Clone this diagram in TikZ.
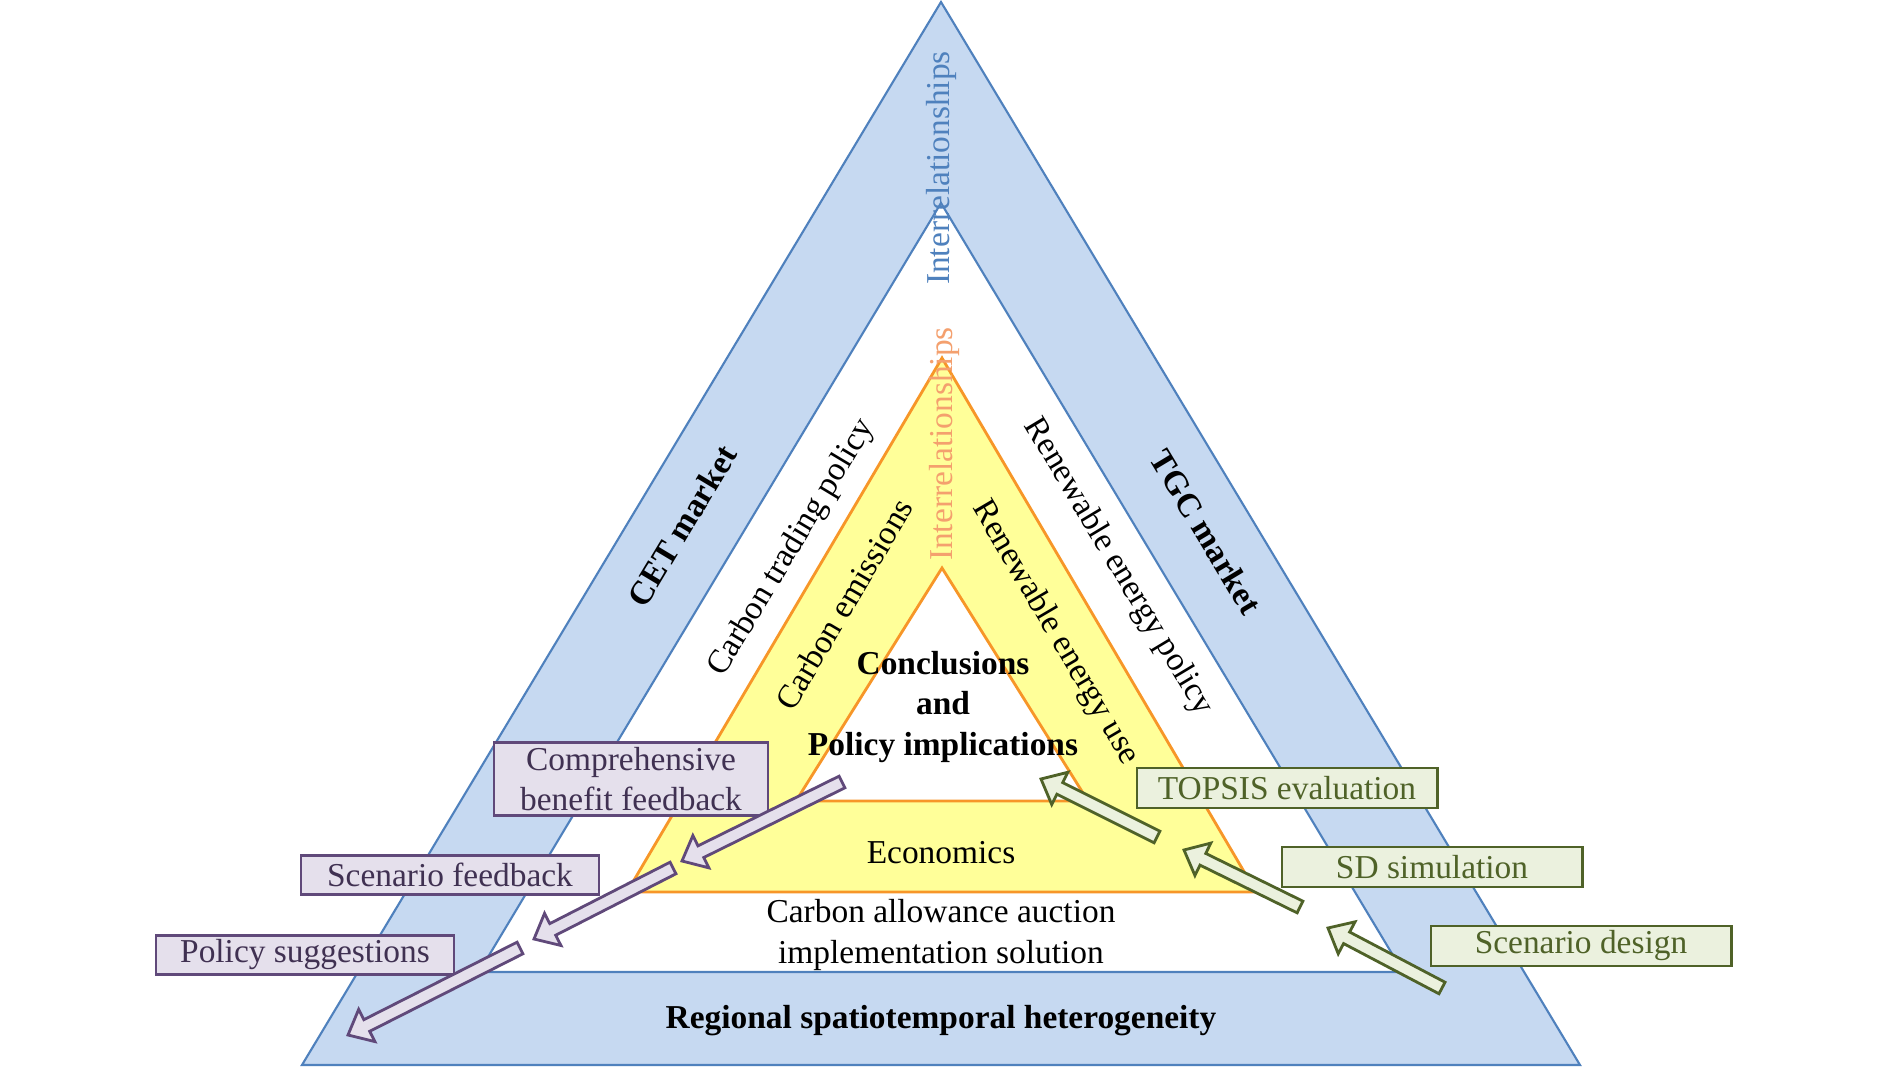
\documentclass[tikz,border=0pt]{standalone}
\usepackage{fontspec}
\setmainfont{Liberation Serif}
\usetikzlibrary{calc}
\definecolor{bandblue}{RGB}{198,217,241}
\definecolor{lineblue}{RGB}{79,129,189}
\definecolor{bandyellow}{RGB}{255,255,153}
\definecolor{lineorange}{RGB}{247,150,40}
\definecolor{textorange}{RGB}{244,160,110}
\definecolor{boxpurple}{RGB}{229,224,236}
\definecolor{linepurple}{RGB}{96,73,122}
\definecolor{textpurple}{RGB}{64,49,82}
\definecolor{boxgreen}{RGB}{235,241,222}
\definecolor{linegreen}{RGB}{79,98,40}
\newcommand{\diagfont}{\fontsize{9.5}{11.4}\selectfont}
\begin{document}
\begin{tikzpicture}[x=0.01cm, y=-0.01cm,
  every node/.style={font=\diagfont, align=center},
  boldlabel/.style={font=\diagfont\bfseries},
  fbbox/.style={rectangle, draw=linepurple, fill=boxpurple, text=textpurple,
    line width=0.8pt, inner ysep=0.5pt, minimum width=2.98cm, minimum height=0.39cm},
  simbox/.style={rectangle, draw=linegreen, fill=boxgreen, text=linegreen,
    line width=0.8pt, inner ysep=0.5pt, minimum width=3cm, minimum height=0.4cm},
  blockarrow/.style={line width=0.8pt, line join=miter, to path={
    ($(\tikztostart)!0.065cm!90:(\tikztotarget)$)
    -- ($(\tikztotarget)!0.22cm!-17.2:(\tikztostart)$)
    -- ($(\tikztotarget)!0.277cm!-40.6:(\tikztostart)$)
    -- (\tikztotarget)
    -- ($(\tikztotarget)!0.277cm!40.6:(\tikztostart)$)
    -- ($(\tikztotarget)!0.22cm!17.2:(\tikztostart)$)
    -- ($(\tikztostart)!0.065cm!-90:(\tikztotarget)$) -- cycle}},
  parrow/.style={blockarrow, draw=linepurple, fill=boxpurple},
  garrow/.style={blockarrow, draw=linegreen, fill=boxgreen}]
\path[use as bounding box, fill=white] (0,0) rectangle (1890,1067);

% triangles
\draw[lineblue, fill=bandblue, line width=0.6pt] (941,2) -- (302,1065) -- (1580,1065) -- cycle;
\draw[lineblue, fill=white, line width=0.6pt] (941,203) -- (479,972) -- (1403,972) -- cycle;
\draw[lineorange, fill=bandyellow, line width=0.8pt] (942,358) -- (627,892) -- (1256,892) -- cycle;
\draw[lineorange, fill=white, line width=0.8pt] (942,568) -- (796,801) -- (1088,801) -- cycle;

\node[text=lineblue, rotate=90] (outerlink) at (941,168) {Interrelationships};
\node[text=textorange, rotate=90] (innerlink) at (944,444) {Interrelationships};

\node[boldlabel, rotate=59] (cet) at (682,526) {CET market};
\node[rotate=59] (carbonpolicy) at (792,548) {Carbon trading policy};
\node[rotate=59.5] (emissions) at (844,604) {Carbon emissions};
\node[boldlabel, rotate=-59] (tgc) at (1206,532) {TGC market};
\node[rotate=-59] (renewpolicy) at (1118,567) {Renewable energy policy};
\node[rotate=-59.5] (renewuse) at (1055,633) {Renewable energy use};

\node[boldlabel] (conclusions) at (943,707) {Conclusions\\and\\Policy implications};
\node (economics) at (941,853) {Economics};
\node (auction) at (941,935) {Carbon allowance auction\\implementation solution};
\node[boldlabel] (regional) at (941,1021) {Regional spatiotemporal heterogeneity};

% feedback side
\node[fbbox, minimum width=2.74cm, minimum height=0.73cm] (benefit) at (631,779) {Comprehensive\\benefit feedback};
\node[fbbox] (scenfeed) at (450,875) {Scenario feedback};
\node[fbbox] (suggest) at (305,955) {Policy suggestions};

% simulation side
\node[simbox] (topsis) at (1287,788) {TOPSIS evaluation};
\node[simbox] (sdsim) at (1432,867) {SD simulation};
\node[simbox] (design) at (1581,946) {Scenario design};

\coordinate (pa1) at (842,782); \coordinate (pb1) at (682,861);
\coordinate (pa2) at (673,868); \coordinate (pb2) at (534,939);
\coordinate (pa3) at (520,948); \coordinate (pb3) at (348,1035);
\coordinate (ga1) at (1157,837); \coordinate (gb1) at (1041,779);
\coordinate (ga2) at (1300,907); \coordinate (gb2) at (1184,850);
\coordinate (ga3) at (1442,988); \coordinate (gb3) at (1328,928);
\foreach \i in {1,2,3} {
  \draw[parrow] (pa\i) to (pb\i);
  \draw[garrow] (ga\i) to (gb\i);
}
\end{tikzpicture}
\end{document}
